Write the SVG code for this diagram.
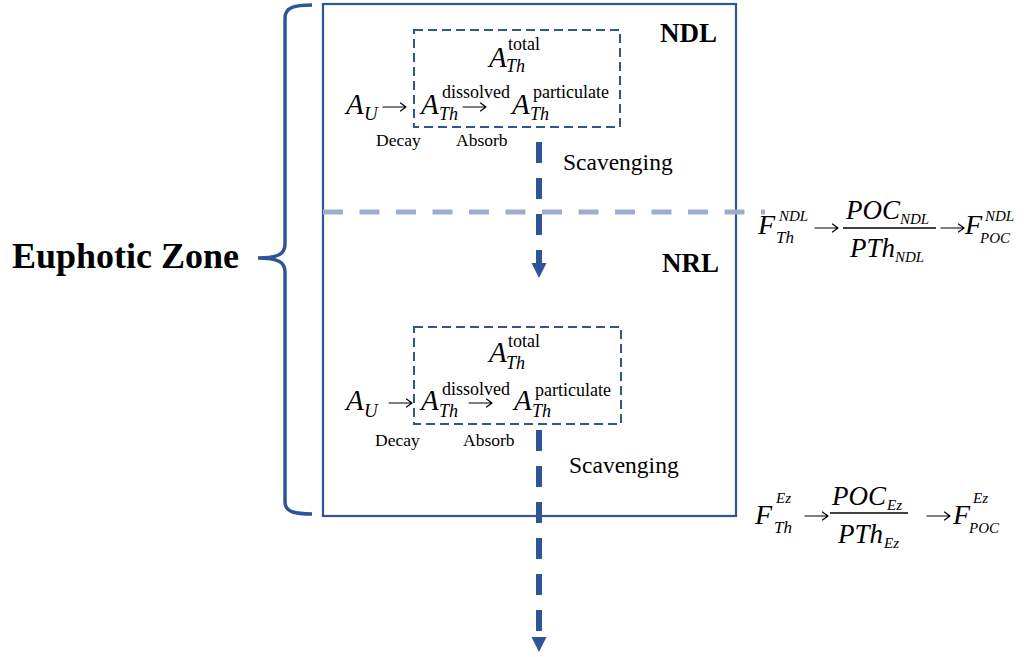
<svg xmlns="http://www.w3.org/2000/svg" width="1025" height="657" viewBox="0 0 1025 657">
<style>
  .frame{fill:none;stroke:#2F5597;stroke-width:2.2}
  .dbox{fill:none;stroke:#2F5597;stroke-width:2;stroke-dasharray:9 5}
  .flow{fill:none;stroke:#2F5597;stroke-width:6;stroke-dasharray:21 15}
  .layer{fill:none;stroke:#9DADCF;stroke-width:5;stroke-dasharray:20 16.5}
  .brace{fill:none;stroke:#2F5597;stroke-width:3.5}
  .marr{fill:none;stroke:#000;stroke-width:1.2;stroke-linecap:round;stroke-linejoin:round}
  text{font-family:"Liberation Serif","Times New Roman",serif;fill:#000}
  .bigA{font-size:29px;font-style:italic}
  .sup{font-size:18px}
  .sub{font-size:18px;font-style:italic}
  .subU{font-size:19px;font-style:italic}
  .lab{font-size:17.5px}
  .scav{font-size:23.5px}
  .zone{font-size:27px;font-weight:bold}
  .F{font-size:28px;font-style:italic}
  .frac{font-size:27px;font-style:italic}
  .sm{font-size:15px;font-style:italic}
  .smTh{font-size:17px;font-style:italic}
  .bar{stroke:#000;stroke-width:1.3}
</style>
<defs>
  <marker id="head" viewBox="0 -8 16 16" refX="0" refY="0" markerWidth="16" markerHeight="16" markerUnits="userSpaceOnUse" orient="auto">
    <path d="M0,-7.5 L15,0 L0,7.5 z" fill="#2F5597"/>
  </marker>
  <path id="ar" class="marr" d="M0,0 H23 M17.5,-4 L23,0 L17.5,4"/>
</defs>

<g id="euphotic-label">
  <path class="brace" d="M312,5 C295,5 285,7 285,18 L285,244 C285,254 278,258 258,258 C278,258 285,262 285,272 L285,502 C285,512 295,514 312,514"/>
  <text x="12" y="268" style="font-size:36px;font-weight:bold">Euphotic Zone</text>
</g>

<g id="euphotic-box">
  <rect class="frame" x="323" y="4" width="413" height="512"/>
</g>

<g id="connectors">
  <line class="layer" x1="323" y1="212" x2="765" y2="212"/>
  <line class="flow" x1="539" y1="142" x2="539" y2="263" marker-end="url(#head)"/>
  <line class="flow" x1="539" y1="430" x2="539" y2="637" marker-end="url(#head)"/>
</g>

<g id="ndl-label"><text class="zone" x="660" y="42">NDL</text></g>
<g id="nrl-label"><text class="zone" x="662" y="272">NRL</text></g>

<g id="ndl-box">
  <rect class="dbox" x="414" y="30" width="206" height="97"/>
  <text class="bigA" x="489" y="67">A</text>
  <text class="sup" x="508" y="50">total</text>
  <text class="sub" x="506" y="72">Th</text>
  <text class="bigA" x="346" y="114">A</text>
  <text class="subU" x="364" y="120">U</text>
  <use href="#ar" x="383" y="107"/>
  <text class="bigA" x="421" y="114">A</text>
  <text class="sup" x="442" y="98">dissolved</text>
  <text class="sub" x="439" y="120">Th</text>
  <use href="#ar" x="463" y="107"/>
  <text class="bigA" x="512" y="114">A</text>
  <text class="sup" x="533" y="98">particulate</text>
  <text class="sub" x="530" y="120">Th</text>
  <text class="lab" x="376" y="146">Decay</text>
  <text class="lab" x="456" y="146">Absorb</text>
</g>
<g id="ndl-scavenging"><text class="scav" x="563" y="170">Scavenging</text></g>

<g id="nrl-box">
  <rect class="dbox" x="414" y="327" width="207" height="97"/>
  <text class="bigA" x="489" y="362">A</text>
  <text class="sup" x="508" y="347">total</text>
  <text class="sub" x="506" y="369">Th</text>
  <text class="bigA" x="346" y="410">A</text>
  <text class="subU" x="364" y="417">U</text>
  <use href="#ar" x="389" y="403"/>
  <text class="bigA" x="421" y="410">A</text>
  <text class="sup" x="442" y="395">dissolved</text>
  <text class="sub" x="439" y="417">Th</text>
  <use href="#ar" x="469" y="403"/>
  <text class="bigA" x="514" y="410">A</text>
  <text class="sup" x="535" y="396">particulate</text>
  <text class="sub" x="532" y="417">Th</text>
  <text class="lab" x="375" y="446">Decay</text>
  <text class="lab" x="463" y="446">Absorb</text>
</g>
<g id="nrl-scavenging"><text class="scav" x="569" y="473">Scavenging</text></g>

<g id="ndl-formula">
  <text class="F" x="758" y="234">F</text>
  <text class="sm" x="779" y="221">NDL</text>
  <text class="smTh" x="776" y="243">Th</text>
  <use href="#ar" x="815" y="228"/>
  <text class="frac" x="846" y="219">POC</text>
  <text class="sm" x="900" y="224">NDL</text>
  <line class="bar" x1="843" y1="228" x2="936" y2="228"/>
  <text class="frac" x="850" y="257">PTh</text>
  <text class="sm" x="895" y="262">NDL</text>
  <use href="#ar" x="941" y="228"/>
  <text class="F" x="965" y="234">F</text>
  <text class="sm" x="985" y="221">NDL</text>
  <text class="sm" x="980" y="243">POC</text>
</g>

<g id="ez-formula">
  <text class="F" x="755" y="524">F</text>
  <text class="sm" x="776" y="503">Ez</text>
  <text class="smTh" x="774" y="533">Th</text>
  <use href="#ar" x="805" y="516"/>
  <text class="frac" x="832" y="505">POC</text>
  <text class="sm" x="887" y="510">Ez</text>
  <line class="bar" x1="830" y1="513" x2="908" y2="513"/>
  <text class="frac" x="838" y="543">PTh</text>
  <text class="sm" x="884" y="548">Ez</text>
  <use href="#ar" x="927" y="516"/>
  <text class="F" x="953" y="524">F</text>
  <text class="sm" x="973" y="503">Ez</text>
  <text class="sm" x="969" y="533">POC</text>
</g>
</svg>
